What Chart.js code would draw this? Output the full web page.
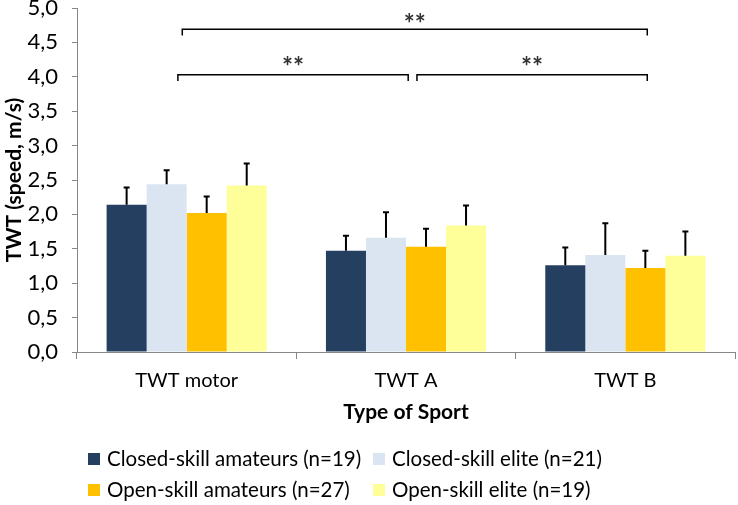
<!DOCTYPE html>
<html>
<head>
<meta charset="utf-8">
<script src="https://cdn.jsdelivr.net/npm/chart.js@4.4.0/dist/chart.umd.min.js"></script>
<style>
  html, body { margin: 0; padding: 0; background: #fff; }
  #wrap { width: 738px; height: 505px; }
</style>
</head>
<body>
<div id="wrap"><canvas id="chart"></canvas></div>
<script>
var categories = ['TWT motor', 'TWT A', 'TWT B'];
var seriesNames = ['Closed-skill amateurs (n=19)', 'Closed-skill elite (n=21)', 'Open-skill amateurs (n=27)', 'Open-skill elite (n=19)'];
var closedAmateurs = [2.14, 1.47, 1.26];
var closedElite = [2.44, 1.66, 1.41];
var openAmateurs = [2.02, 1.53, 1.22];
var openElite = [2.42, 1.84, 1.40];
var closedAmateursSD = [0.25, 0.22, 0.26];
var closedEliteSD = [0.20, 0.37, 0.46];
var openAmateursSD = [0.24, 0.26, 0.25];
var openEliteSD = [0.32, 0.29, 0.35];
var yTicks = [0, 0.5, 1, 1.5, 2, 2.5, 3, 3.5, 4, 4.5, 5];
var colores = ['#243F60', '#DBE5F1', '#FFC000', '#FFFF99'];
var FONT = 'Lato';

var errorBars = {
  id: 'errorBars',
  afterDatasetsDraw: function (chart) {
    var ctx = chart.ctx;
    var y = chart.scales.y;
    ctx.save();
    ctx.strokeStyle = '#000';
    ctx.lineWidth = 2;
    chart.data.datasets.forEach(function (ds, i) {
      var meta = chart.getDatasetMeta(i);
      meta.data.forEach(function (bar, j) {
        var top = y.getPixelForValue(ds.data[j] + ds.sd[j]);
        ctx.beginPath();
        ctx.moveTo(bar.x, bar.y);
        ctx.lineTo(bar.x, top);
        ctx.moveTo(bar.x - 3, top);
        ctx.lineTo(bar.x + 3, top);
        ctx.stroke();
      });
    });
    ctx.restore();
  }
};

// brackets: from/to in category units, height in axis units
var brackets = [
  { from: -0.02, to: 2.1, level: 4.69, drop: 0.09, star: 4.84 },
  { from: -0.04, to: 1.01, level: 4.03, drop: 0.09, star: 4.22 },
  { from: 1.05, to: 2.1, level: 4.03, drop: 0.09, star: 4.22 }
];

var signif = {
  id: 'signif',
  afterDraw: function (chart) {
    var ctx = chart.ctx;
    var x = chart.scales.x, y = chart.scales.y;
    var w = x.getPixelForValue(1) - x.getPixelForValue(0);
    ctx.save();
    ctx.strokeStyle = '#000';
    ctx.lineWidth = 1.5;
    ctx.fillStyle = '#333';
    ctx.font = 'bold 26px ' + FONT;
    ctx.textAlign = 'center';
    ctx.textBaseline = 'middle';
    brackets.forEach(function (b) {
      var x1 = x.getPixelForValue(0) + b.from * w;
      var x2 = x.getPixelForValue(0) + b.to * w;
      var yl = y.getPixelForValue(b.level);
      var yd = y.getPixelForValue(b.level - b.drop);
      ctx.beginPath();
      ctx.moveTo(x1, yd);
      ctx.lineTo(x1, yl);
      ctx.lineTo(x2, yl);
      ctx.lineTo(x2, yd);
      ctx.stroke();
      ctx.fillText('**', (x1 + x2) / 2, y.getPixelForValue(b.star) + 6);
    });
    ctx.restore();
  }
};

var leyenda = {
  id: 'leyenda',
  afterDraw: function (chart) {
    var ctx = chart.ctx;
    ctx.save();
    ctx.font = '20.5px ' + FONT;
    ctx.textBaseline = 'middle';
    var cols = [88, 373];
    var rows = [459, 490];
    chart.data.datasets.forEach(function (ds, i) {
      var cx = cols[i % 2], cy = rows[Math.floor(i / 2)];
      ctx.fillStyle = ds.backgroundColor;
      ctx.fillRect(cx, cy - 6, 12, 12);
      ctx.fillStyle = '#000';
      ctx.fillText(ds.label, cx + 19, cy);
    });
    ctx.restore();
  }
};

var valores = [closedAmateurs, closedElite, openAmateurs, openElite];
var desvios = [closedAmateursSD, closedEliteSD, openAmateursSD, openEliteSD];

new Chart(document.getElementById('chart'), {
  type: 'bar',
  data: {
    labels: categories,
    datasets: valores.map(function (v, i) {
      return {
        label: seriesNames[i],
        data: v,
        sd: desvios[i],
        backgroundColor: colores[i],
        borderWidth: 0,
        categoryPercentage: 0.73,
        barPercentage: 1
      };
    })
  },
  options: {
    responsive: true,
    maintainAspectRatio: false,
    animation: false,
    layout: { padding: { top: 8, right: 3, bottom: 80, left: 2 } },
    plugins: {
      legend: { display: false },
      tooltip: { enabled: false }
    },
    scales: {
      x: {
        afterFit: function (s) { s.height = 73; s.paddingLeft = 0; s.paddingRight = 0; },
        grid: { display: true, drawOnChartArea: false, offset: true, color: '#878787', tickLength: 7 },
        border: { color: '#878787', width: 1 },
        ticks: { color: '#000', font: { family: FONT, size: 20 }, padding: 10 },
        title: { display: true, text: 'Type of Sport', color: '#000', font: { family: FONT, size: 21, weight: 'bold' }, padding: 0 }
      },
      y: {
        min: 0,
        max: 5,
        afterFit: function (s) { s.width = 75; s.paddingTop = 0; s.paddingBottom = 0; },
        afterBuildTicks: function (s) { s.ticks = yTicks.map(function (v) { return { value: v }; }); },
        grid: { display: true, drawOnChartArea: false, color: '#878787', tickLength: 5 },
        border: { color: '#878787', width: 1 },
        ticks: {
          color: '#000',
          font: { family: FONT, size: 22 },
          padding: 14,
          callback: function (v) { return v.toFixed(1).replace('.', ','); }
        },
        title: { display: true, text: 'TWT (speed, m/s)', color: '#000', font: { family: FONT, size: 21, weight: 'bold' }, padding: 0 }
      }
    }
  },
  plugins: [errorBars, signif, leyenda]
});
</script>
</body>
</html>
